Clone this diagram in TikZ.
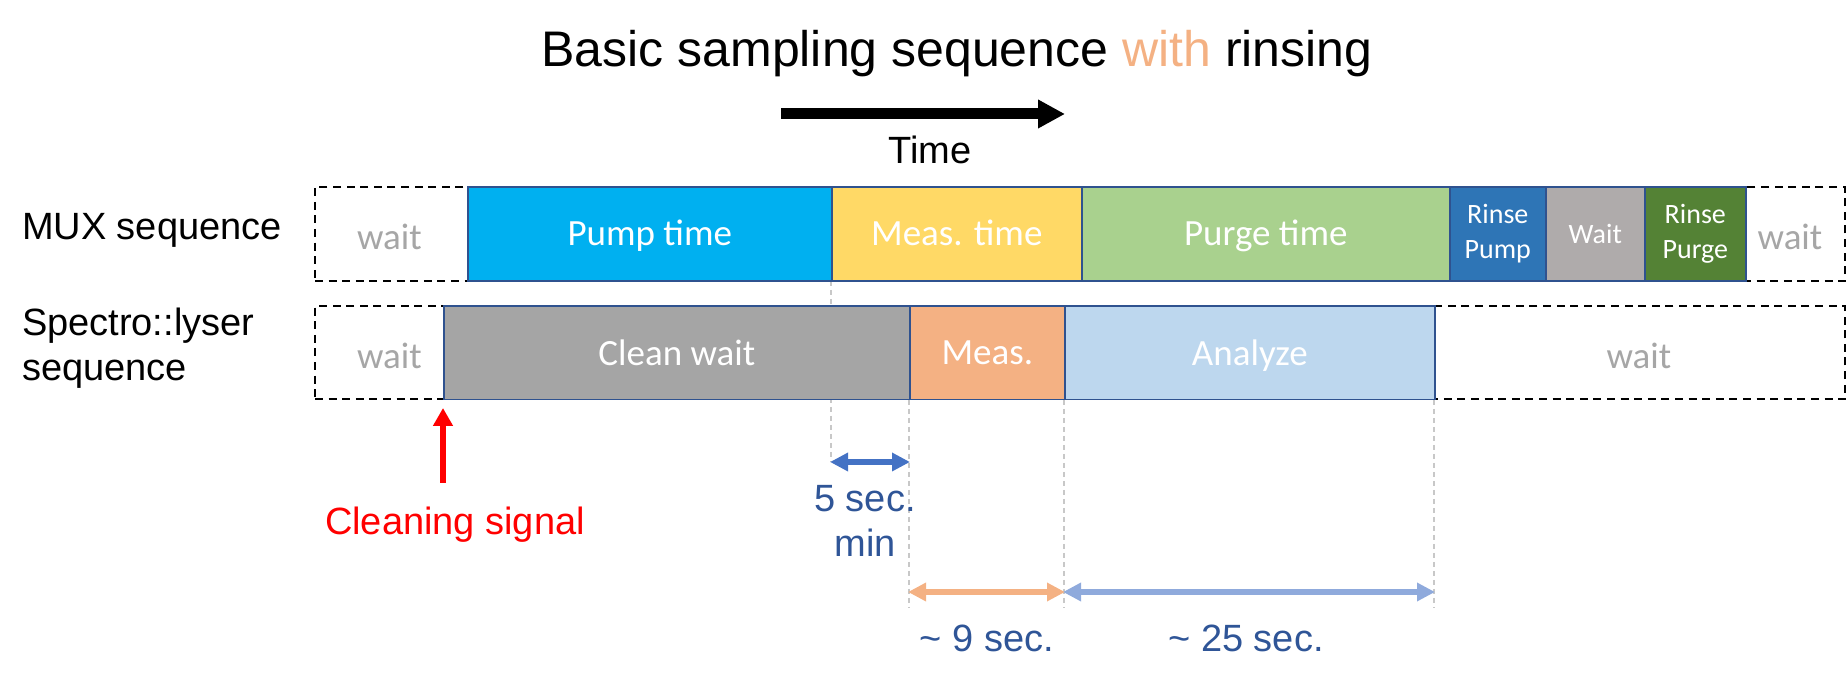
\documentclass[tikz,border=0pt]{standalone}
\usepackage{fontspec}
\setmainfont{Liberation Sans}
\newfontfamily\carl{Carlito}
\usetikzlibrary{arrows.meta}
\definecolor{cpump}{HTML}{00B0F0}
\definecolor{cmeas}{HTML}{FFD966}
\definecolor{cpurge}{HTML}{A9D18E}
\definecolor{crpump}{HTML}{2E75B6}
\definecolor{cwait}{HTML}{AFABAB}
\definecolor{crpurge}{HTML}{548235}
\definecolor{cclean}{HTML}{A5A5A5}
\definecolor{csmeas}{HTML}{F4B183}
\definecolor{canalyze}{HTML}{BDD7EE}
\definecolor{segb}{HTML}{2F528F}
\definecolor{waitgrey}{HTML}{A6A6A6}
\definecolor{dblue}{HTML}{2F5597}
\definecolor{arrblue}{HTML}{4472C4}
\definecolor{arrorange}{HTML}{F4B183}
\definecolor{arrlblue}{HTML}{8FAADC}
\definecolor{guide}{HTML}{C8C8C8}
\definecolor{sigred}{HTML}{FF0000}
\tikzset{
  seg/.style={rectangle, draw=segb, line width=0.8pt, inner sep=0pt, text=white,
    anchor=west, font=\carl\fontsize{18.5}{22}\selectfont},
  segsmall/.style={seg, align=center, font=\carl\fontsize{14}{17.5}\selectfont},
  muxrow/.style={minimum height=47pt},
  sprow/.style={minimum height=46.75pt},
  frame/.style={rectangle, draw=black, line width=1pt, dash pattern=on 4pt off 2.8pt,
    inner sep=0pt, anchor=west, minimum width=765pt},
  waittxt/.style={text=waitgrey, font=\carl\fontsize{18.5}{22}\selectfont, inner sep=0pt},
  lbl/.style={font=\fontsize{19}{22.5}\selectfont, inner sep=0pt},
  dur/.style={lbl, text=dblue},
  guideline/.style={draw=guide, line width=0.6pt, dash pattern=on 2.5pt off 2pt},
  span/.style={line width=2.7pt, {Triangle[length=9pt,width=8.8pt]}-{Triangle[length=9pt,width=8.8pt]}, shorten <=-0.5pt, shorten >=-0.5pt}
}
\begin{document}
\begin{tikzpicture}[x=0.5pt,y=-0.5pt]
\useasboundingbox (0,0) rectangle (1847,683);

% title and time axis
\node[lbl, anchor=base, font=\fontsize{25}{30}\selectfont] (title) at (957,67)
  {Basic sampling sequence \textcolor{arrorange}{with} rinsing};
\coordinate (t0) at (781,114);
\coordinate (t1) at (1065,114);
\draw[line width=5.5pt, -{Triangle[length=13.5pt,width=13.5pt]}] (t0) -- (t1);
\node[lbl, anchor=base] (time) at (930,164) {Time};

% row labels
\node[lbl, anchor=base west] (muxlbl) at (21.6,239.6) {MUX sequence};
\node[lbl, anchor=base west] (splbl1) at (21.6,336) {Spectro::lyser};
\node[lbl, anchor=base west] (splbl2) at (21.6,380.5) {sequence};

% guide line between the rows
\coordinate (g0a) at (831,281);
\coordinate (g0b) at (831,462);
\draw[guideline] (g0a) -- (g0b);

% MUX row
\node[frame, muxrow] (muxframe) at (314,234) {};
\node[waittxt] (mw1) at (389.4,237) {wait};
\node[waittxt] (mw2) at (1790,237) {wait};
\node[seg, muxrow, fill=cpump, minimum width=182pt, text depth=1pt] (pump) at (467,234) {Pump time};
\node[seg, muxrow, fill=cmeas, minimum width=125pt, text depth=1pt] (meas) at (831,234) {Meas. time};
\node[seg, muxrow, fill=cpurge, minimum width=184pt, text depth=1pt] (purge) at (1081,234) {Purge time};
\node[segsmall, muxrow, fill=crpump, minimum width=48pt] (rpump) at (1449,234) {Rinse\\Pump};
\node[segsmall, muxrow, fill=cwait, minimum width=49.5pt, text depth=0pt] (rwait) at (1545,234) {Wait};
\node[segsmall, muxrow, fill=crpurge, minimum width=50.5pt] (rpurge) at (1644,234) {Rinse\\Purge};

% Spectro::lyser row
\node[frame, sprow] (spframe) at (314,352.75) {};
\node[waittxt] (sw1) at (389.4,355.75) {wait};
\node[waittxt] (sw2) at (1639,355.75) {wait};
\node[seg, sprow, fill=cclean, minimum width=233pt, text depth=0pt] (clean) at (443,352.75) {Clean wait};
\node[seg, sprow, fill=csmeas, minimum width=77.5pt, text depth=0pt] (smeas) at (909,352.75) {Meas.};
\node[seg, sprow, fill=canalyze, minimum width=185pt, text depth=0pt] (analyze) at (1064,352.75) {Analyze};

% guide lines below
\coordinate (g1a) at (909,400);
\coordinate (g1b) at (909,608);
\coordinate (g2a) at (1064,400);
\coordinate (g2b) at (1064,608);
\coordinate (g3a) at (1434,400);
\coordinate (g3b) at (1434,608);
\draw[guideline] (g1a) -- (g1b);
\draw[guideline] (g2a) -- (g2b);
\draw[guideline] (g3a) -- (g3b);

% cleaning signal
\coordinate (r0) at (443,483);
\coordinate (r1) at (443,408);
\draw[sigred, line width=3pt, -{Triangle[length=9pt,width=9.5pt]}] (r0) -- (r1);
\node[lbl, anchor=base, text=sigred] (clsig) at (455,535) {Cleaning signal};

% durations
\coordinate (d0) at (831,462);
\coordinate (d1) at (909,462);
\draw[span, arrblue] (d0) -- (d1);
\node[dur, anchor=base, align=center] (five) at (865,557) {5 sec.\\min};

\coordinate (e0) at (909,592);
\coordinate (e1) at (1064,592);
\coordinate (e2) at (1434,592);
\draw[span, arrorange] (e0) -- (e1);
\draw[span, arrlblue] (e1) -- (e2);
\node[dur, anchor=base] (nine) at (987,652) {\textasciitilde{} 9 sec.};
\node[dur, anchor=base] (twentyfive) at (1246,652) {\textasciitilde{} 25 sec.};
\end{tikzpicture}
\end{document}
